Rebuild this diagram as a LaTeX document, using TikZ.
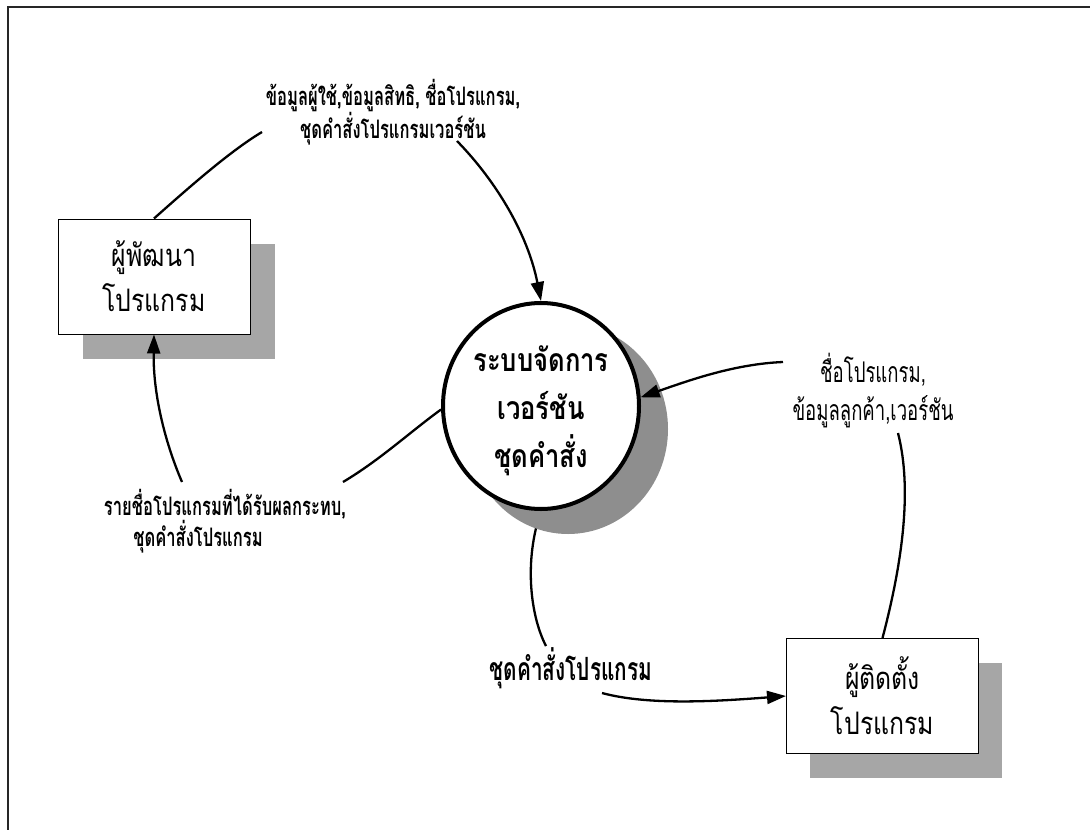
\documentclass[tikz,border=0pt]{standalone}
\usepackage{fontspec}
\newfontfamily\thaicond[Script=Thai,FakeStretch=0.65]{Loma}
\newfontfamily\thaiwide[Script=Thai,FakeStretch=0.8]{Loma}
\usetikzlibrary{arrows.meta,shapes.geometric,calc}
\pgfdeclarelayer{background}
\pgfsetlayers{background,main}

\definecolor{boxshade}{HTML}{A6A6A6}
\definecolor{procshade}{HTML}{8E8E8E}

\tikzset{
  frameline/.style={line width=1.5pt, black!85},
  extent/.style={draw, line width=1pt, fill=white, minimum width=192pt,
    minimum height=115pt, inner sep=0pt, align=center,
    font=\thaiwide\fontsize{31}{45}\selectfont},
  extshade/.style={fill=boxshade, minimum width=192pt, minimum height=115pt,
    inner sep=0pt},
  process/.style={ellipse, draw, line width=4pt, fill=white,
    minimum width=196pt, minimum height=206pt, inner sep=0pt},
  proctext/.style={align=center, inner sep=0pt,
    font=\thaiwide\bfseries\fontsize{32}{48}\selectfont},
  procshadow/.style={ellipse, fill=procshade, minimum width=200pt,
    minimum height=210pt, inner sep=0pt},
  flow/.style={line width=2.3pt},
  flowarrow/.style={flow, -{Triangle[length=19pt,width=13pt]}},
  label/.style={align=center, inner sep=0pt},
}

\begin{document}
\begin{tikzpicture}[x=1pt, y=-1pt]
  \useasboundingbox (0,0) rectangle (1090,830);

  % page frame: left and top rules only
  \coordinate (fbl) at (8,830);
  \coordinate (ftl) at (8,7);
  \coordinate (ftr) at (1090,7);
  \draw[frameline] (fbl) -- (ftl) -- (ftr);

  % external entities with their drop shadows
  \node[extshade] (devshade) at (179,301) {};
  \node[extent] (dev) at (154,276.5) {ผู้พัฒนา\\โปรแกรม};
  \node[extshade] (instshade) at (906,720) {};
  \node[extent] (inst) at (882.5,696) {ผู้ติดตั้ง\\โปรแกรม};

  % the central process
  \node[procshadow] (sysshade) at (568,429) {};
  \node[process] (sys) at (541,406) {};
  \node[proctext] (systext) at ($(sys.center)+(0,5)$) {ระบบจัดการ\\เวอร์ชัน\\ชุดคำสั่ง};

  % data flow labels
  \node[label, font=\thaicond\bfseries\fontsize{25.5}{30}\selectfont] (toplbl) at (393,112)
    {ข้อมูลผู้ใช้,ข้อมูลสิทธิ, ชื่อโปรแกรม,\\ชุดคำสั่งโปรแกรมเวอร์ชัน};
  \node[label, font=\thaicond\fontsize{28.5}{38}\selectfont] (rightlbl) at (873,391)
    {ชื่อโปรแกรม,\\ข้อมูลลูกค้า,เวอร์ชัน};
  \node[label, font=\thaicond\bfseries\fontsize{25.5}{27}\selectfont] (leftlbl) at (225,521)
    {รายชื่อโปรแกรมที่ได้รับผลกระทบ,\\ชุดคำสั่งโปรแกรม\hspace*{54pt}};
  \node[label, font=\thaicond\bfseries\fontsize{32}{32}\selectfont] (botlbl) at (571,668)
    {ชุดคำสั่งโปรแกรม};

  % free ends of the flows beside their labels
  \coordinate (tl1) at (262,132);
  \coordinate (tl2) at (457,141);
  \coordinate (rl1) at (783,362);
  \coordinate (rl2) at (898,433);
  \coordinate (ll1) at (182,482);
  \coordinate (ll2) at (343,482);
  \coordinate (bl1) at (546,646);
  \coordinate (bl2) at (602,693);

  % flows
  \draw[flow] (dev.north) .. controls (195,182) and (232,150) .. (tl1);
  \draw[flowarrow] (tl2) .. controls (497,182) and (528,235) .. (sys.north);
  \draw[flowarrow] (rl1) .. controls (735,364) and (690,380) .. (sys.5);
  \draw[flow] (rl2) .. controls (910,480) and (907,545) .. (inst.north);
  \draw[flowarrow] (ll1) .. controls (164,440) and (153,392) .. (dev.south);
  \draw[flow] (sys.182) .. controls (410,432) and (380,460) .. (ll2);
  \draw[flowarrow] (bl2) .. controls (650,706) and (720,701) .. (inst.west);
  \begin{pgfonlayer}{background}
    \draw[flow] (sys.south) .. controls (524,560) and (530,615) .. (bl1);
  \end{pgfonlayer}
\end{tikzpicture}
\end{document}
